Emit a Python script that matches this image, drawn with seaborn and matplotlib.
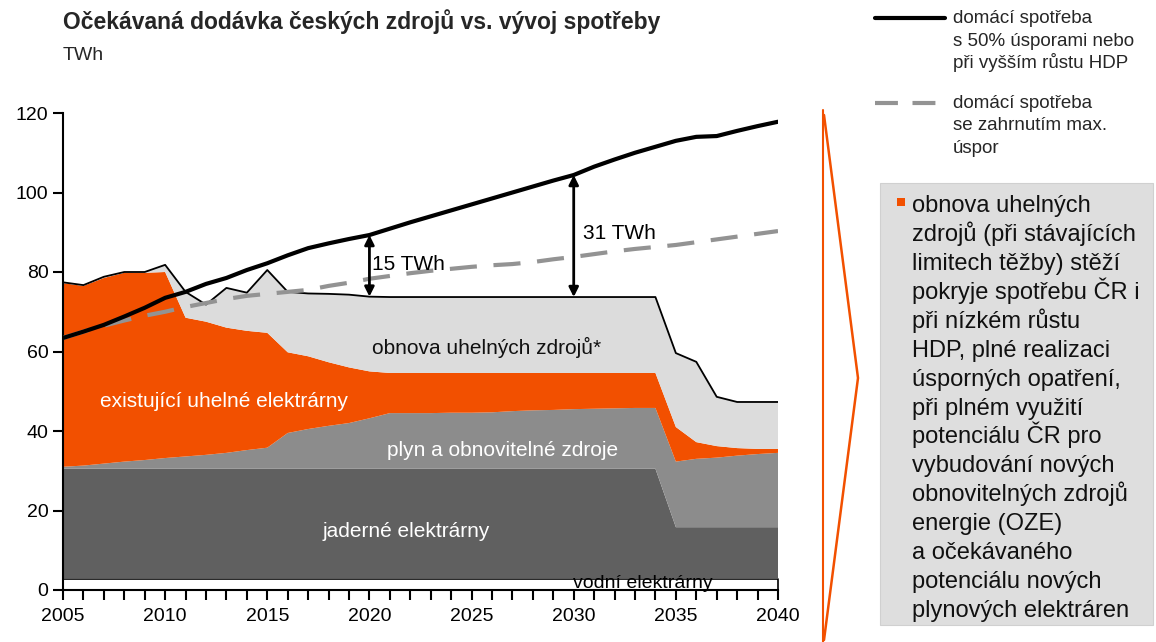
import numpy as np
import pandas as pd
import matplotlib
matplotlib.use("Agg")
import matplotlib.pyplot as plt
import seaborn as sns
from matplotlib.lines import Line2D
from matplotlib.patches import Rectangle

# ---------------- data (TWh) ----------------
years = list(range(2005, 2041))

water = [2.8] * 36
nuclear = [27.7] * 30 + [13.0] * 6
gas_renewables = [0.5, 0.8, 1.3, 1.8, 2.2, 2.7, 3.1, 3.5, 4.0, 4.7, 5.3, 9.0, 10.0, 10.8,
                  11.5, 12.7, 14.0, 14.0, 14.0, 14.1, 14.1, 14.2, 14.5, 14.7, 14.8, 15.0,
                  15.1, 15.2, 15.3, 15.3, 16.5, 17.2, 17.5, 18.0, 18.4, 18.7]
coal_existing = [46.2, 45.2, 46.7, 47.5, 47.1, 46.8, 34.9, 33.5, 31.5, 30.0, 28.9, 20.3,
                 18.3, 16.0, 14.0, 11.8, 10.1, 10.1, 10.1, 10.0, 10.0, 9.9, 9.6, 9.4, 9.3,
                 9.1, 9.0, 8.9, 8.8, 8.8, 8.7, 4.2, 2.9, 1.9, 1.3, 1.0]
coal_renewal = [0.2, 0.2, 0.3, 0.2, 0.2, 1.8, 6.5, 4.3, 10.0, 9.6, 15.8, 15.2, 15.8, 17.2,
                18.3, 18.8] + [19.1] * 14 + [18.6, 20.2, 12.4, 11.6, 11.8, 11.8]

demand_50 = [63.4, 65.0, 66.7, 68.8, 71.0, 73.5, 75.0, 77.0, 78.5, 80.5, 82.2, 84.2, 86.0,
             87.2, 88.3, 89.3, 90.9, 92.5, 94.0, 95.5, 97.0, 98.5, 100.0, 101.5, 103.0,
             104.4, 106.5, 108.3, 110.0, 111.5, 113.0, 114.0, 114.2, 115.5, 116.7, 117.8]
demand_max = [63.4, 65.0, 66.5, 67.8, 69.0, 70.0, 71.2, 72.2, 73.2, 74.0, 74.5, 75.0, 75.5,
              76.5, 77.3, 78.3, 79.0, 79.7, 80.3, 80.8, 81.3, 81.7, 82.0, 82.5, 83.2, 83.8,
              84.5, 85.2, 85.8, 86.3, 86.8, 87.5, 88.2, 88.9, 89.6, 90.3]

layer_names = ["vodní elektrárny", "jaderné elektrárny", "plyn a obnovitelné zdroje",
               "existující uhelné elektrárny", "obnova uhelných zdrojů*"]
layer_values = [water, nuclear, gas_renewables, coal_existing, coal_renewal]
layer_colors = ["#ffffff", "#606060", "#8c8c8c", "#f25000", "#dcdcdc"]

gap_years = [2020, 2030]
gap_labels = ["15 TWh", "31 TWh"]

title = "Očekávaná dodávka českých zdrojů vs. vývoj spotřeby"
unit = "TWh"
legend_labels = [["domácí spotřeba", "s 50% úsporami nebo", "při vyšším růstu HDP"],
                 ["domácí spotřeba", "se zahrnutím max.", "úspor"]]
box_lines = ["obnova uhelných", "zdrojů (při stávajících", "limitech těžby) stěží",
             "pokryje spotřebu ČR i", "při nízkém růstu", "HDP, plné realizaci",
             "úsporných opatření,", "při plném využití", "potenciálu ČR pro",
             "vybudování nových", "obnovitelných zdrojů", "energie (OZE)",
             "a očekávaného", "potenciálu nových", "plynových elektráren"]

# ---------------- style ----------------
sns.set_theme(style="ticks")
plt.rcParams['font.family'] = ['Liberation Sans', 'DejaVu Sans']

W, H = 1156, 642
fig = plt.figure(figsize=(W / 100, H / 100), dpi=100)
ax = fig.add_axes([63 / W, 52 / H, 715 / W, 477 / H])

yrs = np.array(years)
stack = np.cumsum(np.array(layer_values), axis=0)
bottom = np.zeros(len(yrs))
for i, (vals, col) in enumerate(zip(stack, layer_colors)):
    if i == 0:
        ax.fill_between(yrs, bottom, vals, facecolor=col, edgecolor="black", lw=1.2, zorder=2)
    else:
        ax.fill_between(yrs, bottom, vals, facecolor=col, edgecolor="none", lw=0, zorder=2)
    bottom = vals
total = stack[-1]
ax.plot(yrs, total, color="black", lw=1.3, zorder=3)

df = pd.DataFrame({"rok": years, "d50": demand_50, "dmax": demand_max})
sns.lineplot(data=df, x="rok", y="dmax", color="#939393", lw=3, ax=ax, zorder=4)
ax.lines[-1].set_dashes([6.5, 4.0])
sns.lineplot(data=df, x="rok", y="d50", color="black", lw=3, ax=ax, zorder=5)

# gap arrows
for gy in gap_years:
    idx = years.index(gy)
    ax.annotate("", xy=(gy, demand_50[idx]), xytext=(gy, total[idx]),
                arrowprops=dict(arrowstyle="<|-|>", color="black", lw=2,
                                mutation_scale=14, shrinkA=0, shrinkB=0), zorder=6)
ax.text(2020.15, 81.8, gap_labels[0], fontsize=15, color="black", va="center", ha="left", zorder=7)
ax.text(2030.45, 89.6, gap_labels[1], fontsize=15, color="black", va="center", ha="left", zorder=7)

# area labels
ax.text(2025.75, 60.9, layer_names[4], fontsize=15, color="#111111", ha="center", va="center", zorder=7)
ax.text(2012.9, 47.3, layer_names[3], fontsize=15, color="white", ha="center", va="center", zorder=7)
ax.text(2026.5, 35.2, layer_names[2], fontsize=15, color="white", ha="center", va="center", zorder=7)
ax.text(2021.8, 14.6, layer_names[1], fontsize=15, color="white", ha="center", va="center", zorder=7)
ax.text(2033.4, 1.6, layer_names[0], fontsize=14, color="black", ha="center", va="center", zorder=7)

# axes
ax.set_xlim(2005, 2040)
ax.set_ylim(0, 120)
ax.set_xticks(range(2005, 2041, 5))
ax.set_xticks(years, minor=True)
ax.set_yticks(range(0, 121, 20))
ax.set_xlabel("")
ax.set_ylabel("")
ax.tick_params(axis="both", which="both", direction="out", length=7, width=1.5,
               color="black", labelsize=14, labelcolor="black")
ax.tick_params(axis="x", which="major", pad=6)
for s in ["top", "right"]:
    ax.spines[s].set_visible(False)
for s in ["left", "bottom"]:
    ax.spines[s].set_color("black")
    ax.spines[s].set_linewidth(1.5)
ax.set_facecolor("white")
ax.grid(False)


def fx(px):
    return px / W


def fy(py):
    return 1 - py / H


# title and unit
fig.text(fx(63), fy(22), title, fontsize=16.5, fontweight="bold", ha="left", va="center")
fig.text(fx(63), fy(55), unit, fontsize=14, ha="left", va="center")

# legend (manual)
fig.add_artist(Line2D([fx(875), fx(945)], [fy(18), fy(18)], color="black", lw=3))
l2 = Line2D([fx(875), fx(945)], [fy(103), fy(103)], color="#939393", lw=3)
l2.set_dashes([5.5, 3.5])
fig.add_artist(l2)
for start, lines in zip([18, 103], legend_labels):
    for k, line in enumerate(lines):
        fig.text(fx(953), fy(start + 5 + k * 22.5), line, fontsize=13.5, ha="left", va="baseline")

# orange chevron
oc = "#f25000"
fig.add_artist(Line2D([fx(823), fx(823)], [fy(110), fy(642)], color=oc, lw=1.5))
fig.add_artist(Line2D([fx(824), fx(858), fx(824)], [fy(115), fy(378), fy(640)], color=oc, lw=1.8))

# grey text box
fig.add_artist(Rectangle((fx(880), fy(625)), fx(1153) - fx(880), fy(183) - fy(625),
                         transform=fig.transFigure, facecolor="#dedede", edgecolor="#d0d0d0", lw=0.8))
fig.add_artist(Rectangle((fx(897), fy(206)), fx(905) - fx(897), fy(198) - fy(206),
                         transform=fig.transFigure, facecolor=oc, edgecolor="none"))
for k, line in enumerate(box_lines):
    fig.text(fx(912), fy(212 + k * 28.93), line, fontsize=17, ha="left", va="baseline", color="#111111")

fig.savefig("out.png", dpi=100)
